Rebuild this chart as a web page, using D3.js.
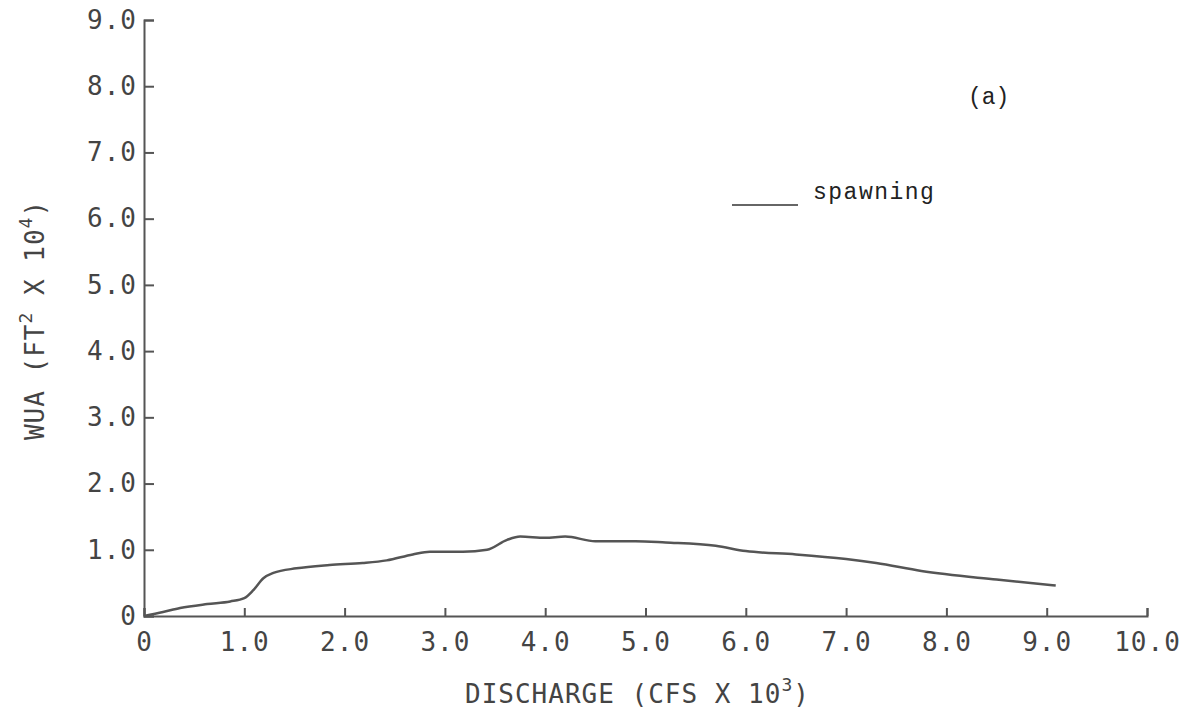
<!DOCTYPE html>
<html>
<head>
<meta charset="utf-8">
<script src="https://cdn.jsdelivr.net/npm/d3@7"></script>
<style>
  body { margin: 0; background: #fff; }
  .axis path, .axis line { stroke: #555; stroke-width: 2; }
  .axis text { font-family: "DejaVu Sans Mono", monospace; font-size: 26px; fill: #444; letter-spacing: 1px; }
  .title { font-family: "DejaVu Sans Mono", monospace; font-size: 26px; fill: #444; letter-spacing: 1px; }
  .note { font-family: "Liberation Mono", monospace; fill: #222; }
</style>
</head>
<body>
<div id="chart"></div>
<script>
"use strict";

// discharge (cfs x 10^3) and WUA (ft2 x 10^4)
var discharge = [0, 0.19, 0.36, 0.63, 0.86, 1.0, 1.09, 1.19, 1.29, 1.52, 1.85, 2.18, 2.42, 2.68, 2.85, 3.18, 3.42, 3.62, 3.75, 4.0, 4.2, 4.5, 4.9, 5.2, 5.7, 6.0, 6.5, 7.0, 7.3, 7.75, 8.5, 9.09];
var spawning = [0, 0.06, 0.12, 0.18, 0.22, 0.27, 0.39, 0.57, 0.65, 0.72, 0.77, 0.80, 0.84, 0.93, 0.97, 0.97, 1.0, 1.15, 1.2, 1.18, 1.2, 1.13, 1.13, 1.11, 1.06, 0.98, 0.93, 0.86, 0.80, 0.68, 0.55, 0.46];
var xTicks = [0, 1, 2, 3, 4, 5, 6, 7, 8, 9, 10];
var yTicks = [0, 1, 2, 3, 4, 5, 6, 7, 8, 9];

var margin = {top: 20, left: 144},
    width = 1003, height = 596;

var svg = d3.select("#chart")
    .append("svg")
    .attr("width", 1192)
    .attr("height", 727);

var g = svg.append("g")
    .attr("transform", "translate(" + margin.left + "," + margin.top + ")");

var x = d3.scaleLinear().domain([0, 10]).range([0, width]),
    y = d3.scaleLinear().domain([0, 9]).range([height, 0]);

var fmt = d => d === 0 ? "0" : d3.format(".1f")(d);

g.append("g")
    .attr("class", "axis axis--y")
    .call(d3.axisLeft(y).tickValues(yTicks).tickFormat(fmt)
        .tickSizeInner(-10).tickSizeOuter(-10).tickPadding(7));

g.append("g")
    .attr("class", "axis axis--x")
    .attr("transform", "translate(0," + height + ")")
    .call(d3.axisBottom(x).tickValues(xTicks).tickFormat(fmt)
        .tickSizeInner(-8).tickSizeOuter(-8).tickPadding(17));

var pts = discharge.map((d, i) => [d, spawning[i]]);

g.append("path")
    .datum(pts)
    .attr("fill", "none")
    .attr("stroke", "#555")
    .attr("stroke-width", 2.5)
    .attr("d", d3.line().x(d => x(d[0])).y(d => y(d[1])).curve(d3.curveMonotoneX));

// axis titles
var xt = svg.append("text")
    .attr("class", "title")
    .attr("x", 465)
    .attr("y", 703);
xt.append("tspan").text("DISCHARGE (CFS X 10");
xt.append("tspan").attr("dy", -12).attr("font-size", 18).text("3");
xt.append("tspan").attr("dy", 12).text(")");

var yt = svg.append("text")
    .attr("class", "title")
    .attr("transform", "translate(44,320) rotate(-90)")
    .attr("text-anchor", "middle");
yt.append("tspan").text("WUA (FT");
yt.append("tspan").attr("dy", -12).attr("font-size", 18).text("2");
yt.append("tspan").attr("dy", 12).text(" X 10");
yt.append("tspan").attr("dy", -12).attr("font-size", 18).text("4");
yt.append("tspan").attr("dy", 12).text(")");

// legend and panel label
svg.append("line")
    .attr("x1", 732).attr("x2", 798)
    .attr("y1", 205).attr("y2", 205)
    .attr("stroke", "#333").attr("stroke-width", 1.5);

svg.append("text")
    .attr("class", "note")
    .attr("x", 813).attr("y", 199)
    .attr("font-size", 23)
    .attr("letter-spacing", 1.5)
    .text("spawning");

svg.append("text")
    .attr("class", "note")
    .attr("x", 968).attr("y", 104)
    .attr("font-size", 23)
    .text("(a)");
</script>
</body>
</html>
